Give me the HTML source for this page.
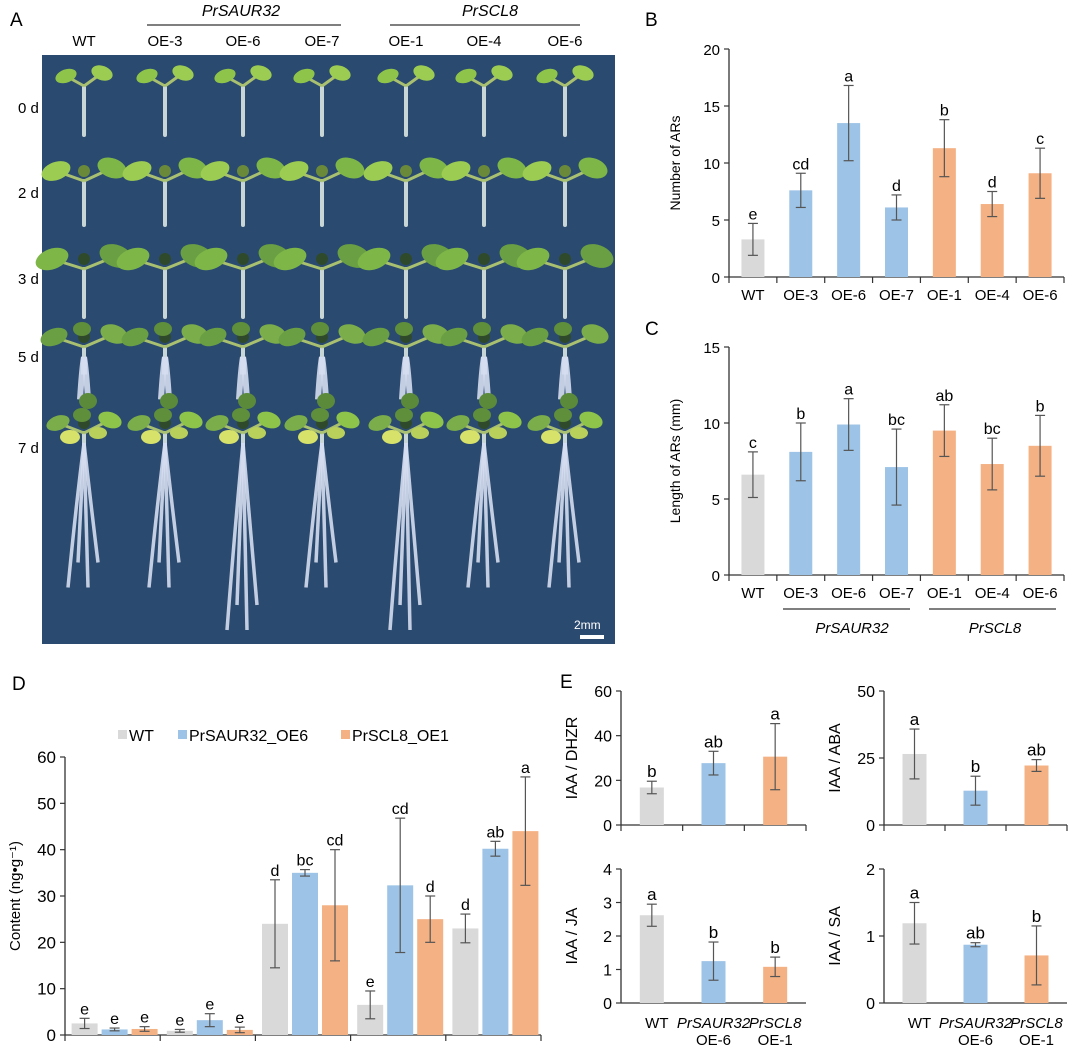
<!DOCTYPE html>
<html><head><meta charset="utf-8"><style>
body{margin:0;background:#fff;}
svg{display:block;font-family:"Liberation Sans",Arial,sans-serif;}
</style></head><body>
<svg id="fig" width="1080" height="1048" viewBox="0 0 1080 1048">
<g id="panelA">
<text x="10" y="26" font-size="19">A</text>
<text x="241" y="16" font-size="16" font-style="italic" text-anchor="middle">PrSAUR32</text>
<line x1="147" y1="25" x2="341" y2="25" stroke="#333" stroke-width="1.2"/>
<text x="490" y="16" font-size="16" font-style="italic" text-anchor="middle">PrSCL8</text>
<line x1="390" y1="25" x2="580" y2="25" stroke="#333" stroke-width="1.2"/>
<rect x="42" y="55" width="573" height="589" fill="#2b4a6f"/>
<g id="seedlings"></g>
<text x="574" y="629" font-size="12" fill="#fff">2mm</text>
<rect x="580" y="635" width="24" height="4" fill="#fff"/>
</g>
<g id="chartB"></g>
<g id="chartC"></g>
<g id="chartD"></g>
<g id="chartE"></g>
</svg>
<script>
const NS="http://www.w3.org/2000/svg";
// ---- data ----
const colLabels=["WT","OE-3","OE-6","OE-7","OE-1","OE-4","OE-6"];
const rowLabels=["0 d","2 d","3 d","5 d","7 d"];
const bCats=["WT","OE-3","OE-6","OE-7","OE-1","OE-4","OE-6"];
const bVals=[3.3,7.6,13.5,6.1,11.3,6.4,9.1];
const bErr=[1.4,1.5,3.3,1.1,2.5,1.1,2.2];
const bLetters=["e","cd","a","d","b","d","c"];
const bTicks=[0,5,10,15,20];
const cVals=[6.6,8.1,9.9,7.1,9.5,7.3,8.5];
const cErr=[1.5,1.9,1.7,2.5,1.7,1.7,2.0];
const cLetters=["c","b","a","bc","ab","bc","b"];
const cTicks=[0,5,10,15];
const dGroups=["DHZR","ABA","IAA","JA","SA"];
const dSeries=["WT","PrSAUR32_OE6","PrSCL8_OE1"];
const dWT=[2.5,0.9,24,6.5,23];
const dWTErr=[1.1,0.3,9.5,3,3.1];
const dWTLet=["e","e","d","e","d"];
const dOE6=[1.2,3.2,35,32.3,40.2];
const dOE6Err=[0.3,1.4,0.7,14.5,1.6];
const dOE6Let=["e","e","bc","cd","ab"];
const dOE1=[1.3,1.1,28,25,44];
const dOE1Err=[0.5,0.6,12,5,11.7];
const dOE1Let=["e","e","cd","d","a"];
const dTicks=[0,10,20,30,40,50,60];
const eDHZR=[16.8,27.7,30.6];
const eDHZRErr=[2.8,5.3,14.8];
const eDHZRLet=["b","ab","a"];
const eABA=[26.5,12.8,22.2];
const eABAErr=[9.3,5.4,2.2];
const eABALet=["a","b","ab"];
const eJA=[2.62,1.25,1.08];
const eJAErr=[0.33,0.57,0.29];
const eJALet=["a","b","b"];
const eSA=[1.19,0.87,0.71];
const eSAErr=[0.31,0.03,0.44];
const eSALet=["a","ab","b"];
const colors=["#d9d9d9","#9dc3e6","#f4b183"];

function el(tag,attrs,parent,txt){const e=document.createElementNS(NS,tag);for(const k in attrs)e.setAttribute(k,attrs[k]);if(txt!==undefined)e.textContent=txt;parent.appendChild(e);return e;}

// ---- Panel A seedlings ----
(function(){
 const g=document.getElementById('seedlings');
 const colX=[84,165,243,322,406,484,565];
 const rowY=[108,193,279,357,448];
 const fig=document.getElementById('panelA');
 colLabels.forEach((l,i)=>{const t=el('text',{x:colX[i],y:46,'font-size':15,'text-anchor':'middle'},fig,l);
  
  });
 rowLabels.forEach((l,j)=>{const t=el('text',{x:18,y:rowY[j]+5,'font-size':15},fig,l);
  
  });
 const leafC=['#8fc44a','#9ccc52','#7fb648','#6aa043','#7bae4a'];
 // stage geometry: [leafY offset, stem bottom offset, leaf spread, leaf rx, root length]
 const stage=[[-32,27,18,11,0],[-22,32,28,15,0],[-20,38,32,17,0],[-20,10,30,14,50],[-25,5,26,12,170]];
 rowY.forEach((y,j)=>{colX.forEach((x,i)=>{
  const s=el('g',{},g);
  
  
  const st=stage[j], ly=y+st[0], hub=ly+10;
  el('line',{x1:x,y1:hub,x2:x,y2:y+st[1],stroke:'#c9d6d6','stroke-width':4,'stroke-linecap':'round'},s);
  if(st[4]){const len=st[4]*(j==4&&(i==2||i==4)?1.1:0.85);
   const spread=j==4?[-16,-6,4,14]:[-4,0,4];
   spread.forEach((d,k)=>el('path',{d:`M${x} ${hub+10} Q ${x+d*0.5} ${hub+len*0.5} ${x+d} ${hub+10+len-(k%2)*25}`,stroke:'#d5ddef','stroke-width':j==4?3.5:6,fill:'none',opacity:0.9},s));}
  el('line',{x1:x,y1:hub,x2:x-st[2],y2:ly,stroke:'#a8c070','stroke-width':3},s);
  el('line',{x1:x,y1:hub,x2:x+st[2],y2:ly-3,stroke:'#a8c070','stroke-width':3},s);
  el('ellipse',{cx:x-st[2],cy:ly,rx:st[3],ry:st[3]*0.6,fill:leafC[j],transform:`rotate(-20 ${x-st[2]} ${ly})`},s);
  el('ellipse',{cx:x+st[2],cy:ly-3,rx:st[3],ry:st[3]*0.65,fill:leafC[(j+1)%5],transform:`rotate(20 ${x+st[2]} ${ly-3})`},s);
  if(j>=1)el('circle',{cx:x,cy:hub-10,r:6,fill:j>=2?'#2f4a2a':'#6a8a3a'},s);
  if(j>=3){el('ellipse',{cx:x-2,cy:hub-18,rx:9,ry:7,fill:'#5f8f3a'},s);}
  if(j==4){el('ellipse',{cx:x-14,cy:hub+4,rx:10,ry:7,fill:'#d6e26a'},s);el('ellipse',{cx:x+14,cy:hub,rx:9,ry:6,fill:'#b9d05a'},s);
   el('ellipse',{cx:x+4,cy:hub-32,rx:9,ry:8,fill:'#5a8a3a'},s);}
 });});
})();

// ---- generic bar chart ----
function barChart(parent,o){
 const g=el('g',{},parent);
 
 
 const ys=v=>o.y0-(v-o.min)/(o.max-o.min)*(o.y0-o.y1);
 el('line',{x1:o.x0,y1:o.y1,x2:o.x0,y2:o.y0,stroke:'#333','stroke-width':1.3},g);
 el('line',{x1:o.x0,y1:o.y0,x2:o.x1,y2:o.y0,stroke:'#333','stroke-width':1.3},g);
 o.ticks.forEach(t=>{el('line',{x1:o.x0-5,y1:ys(t),x2:o.x0,y2:ys(t),stroke:'#333','stroke-width':1.2},g);
  const tl=el('text',{x:o.x0-9,y:ys(t)+6,'font-size':o.fs,'text-anchor':'end'},g,t);
  
  });
 const n=o.groups, gw=(o.x1-o.x0)/n;
 if(o.xticks!==false)for(let i=0;i<=n;i++)el('line',{x1:o.x0+i*gw,y1:o.y0,x2:o.x0+i*gw,y2:o.y0+6,stroke:'#333','stroke-width':1.2},g);
 o.bars.forEach(b=>{
  const cx=o.x0+(b.gi+0.5)*gw+b.off;
  const r=el('rect',{x:cx-o.bw/2,y:ys(b.v),width:o.bw,height:o.y0-ys(b.v),fill:b.c},g);
  
  
  const hi=ys(b.v+b.e),lo=ys(Math.max(0,b.v-b.e));
  el('line',{x1:cx,y1:hi,x2:cx,y2:lo,stroke:'#555','stroke-width':1.2},g);
  el('line',{x1:cx-5,y1:hi,x2:cx+5,y2:hi,stroke:'#555','stroke-width':1.2},g);
  el('line',{x1:cx-5,y1:lo,x2:cx+5,y2:lo,stroke:'#555','stroke-width':1.2},g);
  const lt=el('text',{x:cx,y:hi-4,'font-size':o.lfs||16,'text-anchor':'middle'},g,b.l);
  
  
 });
 if(o.xlabels)o.xlabels.forEach((l,i)=>{const t=el('text',{x:o.x0+(i+0.5)*gw,y:o.y0+o.xly,'font-size':o.fs,'text-anchor':'middle'},g,l);
  
  });
 const yt=el('text',{x:0,y:0,'font-size':o.tfs||14,'text-anchor':'middle',transform:`translate(${o.tx},${(o.y0+o.y1)/2}) rotate(-90)`},g,o.title);
 
 
 return g;
}
function colorB(i){return i==0?colors[0]:(i<4?colors[1]:colors[2]);}
// B
(function(){const p=document.getElementById('chartB');
 el('text',{x:645,y:26,'font-size':19},p,'B');
 barChart(p,{name:'ar-number-chart',x0:729,x1:1064,y0:277,y1:49,min:0,max:20,ticks:bTicks,fs:15,bw:23,groups:bCats.length,
  bars:bVals.map((v,i)=>({gi:i,off:0,v:v,e:bErr[i],l:bLetters[i],c:colorB(i),id:bCats[i]})),xlabels:bCats,xly:23,title:'Number of ARs',tx:680});})();
// C
(function(){const p=document.getElementById('chartC');
 el('text',{x:645,y:335,'font-size':19},p,'C');
 barChart(p,{name:'ar-length-chart',x0:729,x1:1064,y0:575,y1:347,min:0,max:15,ticks:cTicks,fs:15,bw:23,groups:bCats.length,
  bars:cVals.map((v,i)=>({gi:i,off:0,v:v,e:cErr[i],l:cLetters[i],c:colorB(i),id:bCats[i]})),xlabels:bCats,xly:23,title:'Length of ARs (mm)',tx:680});
 el('line',{x1:783,y1:609,x2:910,y2:609,stroke:'#333','stroke-width':1.2},p);
 el('line',{x1:929,y1:609,x2:1056,y2:609,stroke:'#333','stroke-width':1.2},p);
 el('text',{x:852,y:633,'font-size':15,'font-style':'italic','text-anchor':'middle'},p,'PrSAUR32');
 el('text',{x:995,y:633,'font-size':15,'font-style':'italic','text-anchor':'middle'},p,'PrSCL8');})();
// D
(function(){const p=document.getElementById('chartD');
 el('text',{x:12,y:690,'font-size':19},p,'D');
 const bars=[];const sets=[[dWT,dWTErr,dWTLet],[dOE6,dOE6Err,dOE6Let],[dOE1,dOE1Err,dOE1Let]];
 sets.forEach((s,k)=>s[0].forEach((v,i)=>bars.push({gi:i,off:(k-1)*30+2,v:v,e:s[1][i],l:s[2][i],c:colors[k],id:dSeries[k]+'-'+dGroups[i]})));
 barChart(p,{name:'hormone-content-chart',x0:65,x1:541,y0:1035,y1:757,min:0,max:60,ticks:dTicks,fs:17,bw:26,groups:dGroups.length,bars:bars,xlabels:dGroups,xly:27,title:'Content (ng•g⁻¹)',tx:20,tfs:15,lfs:16});
 const lx=[118,178,341];
 dSeries.forEach((s,k)=>{const lg=el('g',{},p);
  
  
  el('rect',{x:lx[k],y:730,width:9,height:9,fill:colors[k]},lg);
  el('text',{x:lx[k]+11,y:741,'font-size':16},lg,s);});})();
// E
(function(){const p=document.getElementById('chartE');
 el('text',{x:560,y:688,'font-size':19},p,'E');
 const specs=[[eDHZR,eDHZRErr,eDHZRLet,'IAA / DHZR',621,806,825,691,60,[0,20,40,60],true],
  [eABA,eABAErr,eABALet,'IAA / ABA',884,1067,825,691,50,[0,25,50],true],
  [eJA,eJAErr,eJALet,'IAA / JA',621,806,1003,869,4,[0,1,2,3,4],false],
  [eSA,eSAErr,eSALet,'IAA / SA',884,1067,1003,869,2,[0,1,2],false]];
 const ids=['WT','PrSAUR32-OE6','PrSCL8-OE1'];
 specs.forEach(s=>{
  barChart(p,{name:'ratio-chart-'+s[3].replace(/[^A-Z]/g,'').toLowerCase(),x0:s[4],x1:s[5],y0:s[6],y1:s[7],min:0,max:s[8],ticks:s[9],fs:16,bw:24,groups:3,xticks:s[10],
   bars:s[0].map((v,i)=>({gi:i,off:0,v:v,e:s[1][i],l:s[2][i],c:colors[i],id:ids[i]})),title:s[3],tx:s[4]-44,tfs:16,lfs:17});
  if(!s[10]){const gw=(s[5]-s[4])/3;
   const l1=['WT','PrSAUR32','PrSCL8'],l2=['','OE-6','OE-1'];
   l1.forEach((l,i)=>{const cx=s[4]+(i+0.5)*gw+(i==0?5:0);
    el('text',{x:cx,y:1028,'font-size':15,'font-style':i?'italic':'normal','text-anchor':'middle'},p,l);
    if(l2[i])el('text',{x:cx,y:1045,'font-size':15,'text-anchor':'middle'},p,l2[i]);});}
 });})();
</script>
</body></html>
